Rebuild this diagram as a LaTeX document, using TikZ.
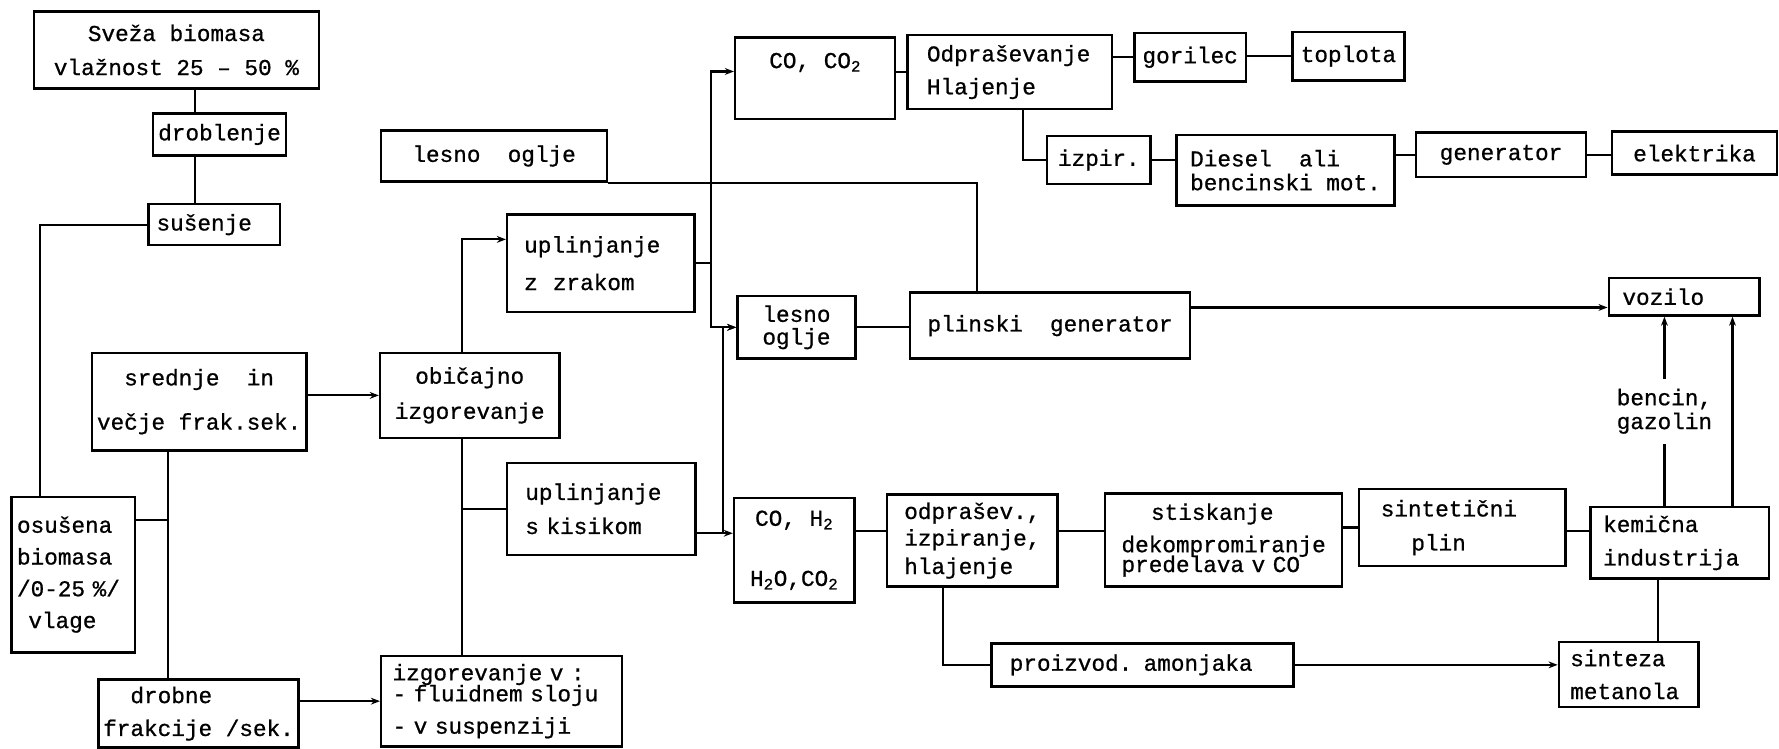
\documentclass[tikz,border=0pt]{standalone}
\usepackage{fontspec}
\newfontfamily\pisalni[FakeBold=0.8]{Liberation Mono}
\usepackage{tikz}
\usetikzlibrary{arrows.meta}

\tikzset{
  blok/.style={draw, line width=2.2pt, inner sep=0pt, font=\pisalni\fontsize{20}{20}\selectfont},
  zveza/.style={line width=1.9pt},
  puscica/.style={-{Stealth[length=8pt,width=6pt]}},
  oznaka/.style={fill=white, inner xsep=2pt, inner ysep=9pt, align=center, font=\pisalni\fontsize{20}{20}\selectfont}
}

\begin{document}
\begin{tikzpicture}[x=1pt,y=-1pt]
\useasboundingbox (0,0) rectangle (1568,660);
%rails for the lines
\coordinate (xa) at (172,0); \coordinate (xb) at (35,0); \coordinate (xc) at (148,0);
\coordinate (xd) at (407,0); \coordinate (xe) at (627,0); \coordinate (xf) at (637,0);
\coordinate (xg) at (861,0); \coordinate (xh) at (902,0); \coordinate (xi) at (831,0);
\coordinate (xj) at (1467,0); \coordinate (xk) at (1527,0); \coordinate (xl) at (1461,0);
\coordinate (ya) at (0,458); \coordinate (yb) at (0,211); \coordinate (yc) at (0,63);
\coordinate (yd) at (0,470); \coordinate (ye) at (0,271); \coordinate (yf) at (0,468);
%left column
\node[blok, minimum width=251, minimum height=68, align=center] (sveza) at (155.5,44) {Sveža biomasa\\[10pt]vlažnost 25 – 50 \%};
\node[blok, minimum width=117, minimum height=37] (droblenje) at (193.5,118.5) {droblenje};
\node[blok, minimum width=116, minimum height=36, text width=102, align=left] (susenje) at (189,198) {sušenje};
\node[blok, minimum width=189, minimum height=86, align=center] (srednje) at (175.5,354) {srednje~~in\\[19pt]večje frak.sek.};
\node[blok, minimum width=109, minimum height=137, text width=99, align=left] (osusena) at (64.5,506.5) {osušena\\[8pt]biomasa\\[8pt]/0-25~\%/\\[8pt]\hspace*{10pt}vlage};
\node[blok, minimum width=176, minimum height=60, align=left] (drobne) at (175,629) {\hspace*{24pt}drobne\\[9pt]frakcije /sek.};
%combustion and gasification
\node[blok, minimum width=199, minimum height=45, align=center] (lesno) at (435.5,137.5) {lesno~~oglje};
\node[blok, minimum width=165, minimum height=86, text width=135, align=left] (upzrak) at (529.5,232) {uplinjanje\\[13pt]z~~zrakom};
\node[blok, minimum width=158, minimum height=75, align=center] (obicajno) at (414,348.5) {običajno\\[11pt]izgorevanje};
\node[blok, minimum width=166, minimum height=81, text width=134, align=left] (upkis) at (530,448.5) {uplinjanje\\[10pt]s kisikom};
\node[blok, minimum width=212, minimum height=80, text width=192, align=left] (izgor) at (442,618) {izgorevanje v :\\[-1.5pt]- fluidnem sloju\\[8.5pt]- v suspenziji};
%upper branch
\node[blok, minimum width=141, minimum height=72, text height=15pt, text depth=33pt] (co2) at (718.5,69) {CO, CO\textsubscript{2}};
\node[blok, minimum width=180, minimum height=65, text width=146, align=left] (odpr) at (890,63.5) {Odpraševanje\\[9pt]Hlajenje};
\node[blok, minimum width=98, minimum height=43] (gorilec) at (1049,50.5) {gorilec};
\node[blok, minimum width=99, minimum height=43] (toplota) at (1188.5,49.5) {toplota};
\node[blok, minimum width=91, minimum height=42] (izpir) at (968.5,141) {izpir.};
\node[blok, minimum width=192, minimum height=62, align=left] (diesel) at (1133,150) {Diesel~~ali\\[1pt]bencinski mot.};
\node[blok, minimum width=150, minimum height=39] (generator) at (1323,136.5) {generator};
\node[blok, minimum width=145, minimum height=38] (elektrika) at (1493.5,135) {elektrika};
\node[blok, minimum width=104, minimum height=55, align=center] (lesnosm) at (702,288.5) {lesno\\oglje};
\node[blok, minimum width=247, minimum height=58] (plinski) at (925.5,287) {plinski~~generator};
\node[blok, minimum width=133, minimum height=33, text width=109, align=left] (vozilo) at (1484.5,261.5) {vozilo};
%lower branch
\node[blok, minimum width=106, minimum height=92, align=center] (coh2) at (700,485) {CO, H\textsubscript{2}\\[33pt]H\textsubscript{2}O,CO\textsubscript{2}};
\node[blok, minimum width=150, minimum height=81, text width=120, align=left] (odprsev) at (857,476.5) {odprašev.,\\[3.5pt]izpiranje,\\[5pt]hlajenje};
\node[blok, minimum width=209, minimum height=82, text width=180, align=left] (stiskanje) at (1078.5,476) {\hspace*{26pt}stiskanje\\[8.5pt]dekompromiranje\\[-2.5pt]predelava v CO};
\node[blok, minimum width=182, minimum height=68, text width=144, align=left] (sintet) at (1289,465) {sintetični\\[10pt]\hspace*{27pt}plin};
\node[blok, minimum width=157, minimum height=63, text width=135, align=left] (kemicna) at (1480.5,478.5) {kemična\\[9.5pt]industrija};
\node[blok, minimum width=266, minimum height=38, text width=234, align=left] (proizvod) at (1007,586) {proizvod. amonjaka};
\node[blok, minimum width=123, minimum height=57, text width=103, align=left] (sinteza) at (1435.5,594.5) {sinteza\\[9pt]metanola};
%lines on the left
\draw[zveza] (sveza.south -| xa) -- (droblenje.north -| xa);
\draw[zveza] (droblenje.south -| xa) -- (susenje.north -| xa);
\draw[zveza] (susenje.west) -| (osusena.north -| xb);
\draw[zveza] (osusena.east |- ya) -- (ya -| xc);
\draw[zveza] (srednje.south -| xc) -- (drobne.north -| xc);
\draw[zveza,puscica] (srednje.east |- obicajno.west) -- (obicajno.west);
\draw[zveza,puscica] (drobne.east |- izgor.west) -- (izgor.west);
\draw[zveza,puscica] (obicajno.north -| xd) |- (upzrak.west |- yb);
\draw[zveza] (obicajno.south -| xd) -- (izgor.north -| xd);
\draw[zveza] (upkis.west -| xd) -- (upkis.west);
%gas lines
\draw[zveza] (upzrak.east) -- (upzrak.east -| xe);
\draw[zveza,puscica] (upzrak.east -| xe) |- (co2.west |- yc);
\draw[zveza,puscica] (upzrak.east -| xe) |- (lesnosm.west);
\draw[zveza,puscica] (upkis.east |- yd) -- (coh2.west |- yd);
\draw[zveza,puscica] (xf |- yd) |- (lesnosm.west);
%upper branch lines
\draw[zveza] (co2.east |- odpr.west) -- (odpr.west);
\draw[zveza] (odpr.east |- gorilec.west) -- (gorilec.west);
\draw[zveza] (gorilec.east |- toplota.west) -- (toplota.west);
\draw[zveza] (odpr.south -| xh) |- (izpir.west);
\draw[zveza] (izpir.east) -- (izpir.east -| diesel.west);
\draw[zveza] (diesel.east |- generator.west) -- (generator.west);
\draw[zveza] (generator.east) -- (generator.east -| elektrika.west);
\draw[zveza] (lesno.south east) -| (plinski.north -| xg);
\draw[zveza] (lesnosm.east) -- (lesnosm.east -| plinski.west);
\draw[zveza,puscica] (plinski.east |- ye) -- (vozilo.west |- ye);
%lower branch lines
\draw[zveza] (coh2.east |- yf) -- (odprsev.west |- yf);
\draw[zveza] (odprsev.east |- yf) -- (stiskanje.west |- yf);
\draw[zveza] (stiskanje.east |- sintet.west) -- (sintet.west);
\draw[zveza] (sintet.east |- yf) -- (kemicna.west |- yf);
\draw[zveza] (odprsev.south -| xi) |- (proizvod.west);
\draw[zveza,puscica] (proizvod.east) -- (proizvod.east -| sinteza.west);
\draw[zveza] (kemicna.south -| xl) -- (sinteza.north -| xl);
\draw[zveza,puscica] (kemicna.north -| xj) -- node[oznaka] (bencin) {bencin,\\[1pt]gazolin} (vozilo.south -| xj);
\draw[zveza,puscica] (kemicna.north -| xk) -- (vozilo.south -| xk);
\end{tikzpicture}
\end{document}
